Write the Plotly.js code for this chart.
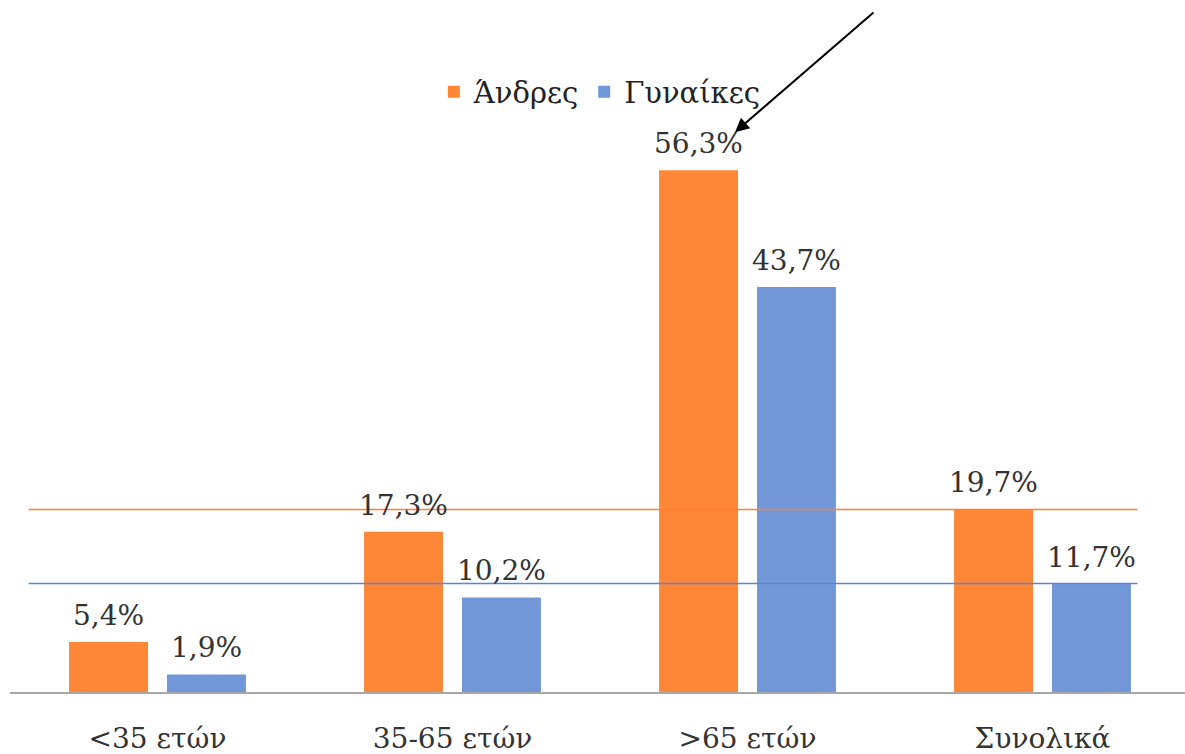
<!DOCTYPE html>
<html>
<head>
<meta charset="utf-8">
<script src="https://cdn.plot.ly/plotly-3.0.1.min.js"></script>
<style>html,body{margin:0;padding:0;background:#fff;}#chart{width:1185px;height:754px;}</style>
</head>
<body>
<div id="chart"></div>
<script>
const categories = ['<35 ετών', '35-65 ετών', '>65 ετών', 'Συνολικά'];
const seriesNames = ['Άνδρες', 'Γυναίκες'];
const men = [5.4, 17.3, 56.3, 19.7];
const women = [1.9, 10.2, 43.7, 11.7];
const menLabels = ['5,4%', '17,3%', '56,3%', '19,7%'];
const womenLabels = ['1,9%', '10,2%', '43,7%', '11,7%'];

const FONT = 'DejaVu Serif, Liberation Serif, serif';
const ORANGE = '#FD8637';
const BLUE = '#7297D9';
const TXT = '#333333';

const traces = [
  {type: 'bar', name: seriesNames[0], x: categories, y: men, marker: {color: ORANGE}, hoverinfo: 'none'},
  {type: 'bar', name: seriesNames[1], x: categories, y: women, marker: {color: BLUE}, hoverinfo: 'none'}
];

const annotations = [];
categories.forEach((c, i) => {
  annotations.push({x: c, y: men[i], xref: 'x', yref: 'y', text: menLabels[i], showarrow: false,
    xshift: -49, yshift: 8, yanchor: 'bottom', font: {family: FONT, size: 28, color: TXT}});
  annotations.push({x: c, y: women[i], xref: 'x', yref: 'y', text: womenLabels[i], showarrow: false,
    xshift: 49, yshift: 8, yanchor: 'bottom', font: {family: FONT, size: 28, color: TXT}});
});
// arrow pointing at the >65 men label
annotations.push({x: 0.617, y: 0.833, xref: 'paper', yref: 'paper', text: '', showarrow: true,
  ax: 140, ay: -121, arrowhead: 2, arrowsize: 1.4, arrowwidth: 2, arrowcolor: '#000'});

const shapes = [
  {type: 'line', xref: 'x', yref: 'y', x0: -0.437, x1: 3.322, y0: men[3], y1: men[3],
   line: {color: '#FF8030', width: 1.5}},
  {type: 'line', xref: 'x', yref: 'y', x0: -0.437, x1: 3.322, y0: women[3], y1: women[3],
   line: {color: '#5B84D8', width: 1.5}}
];

const layout = {
  width: 1185, height: 754,
  margin: {l: 10, r: 0, t: 20, b: 62},
  paper_bgcolor: '#fff', plot_bgcolor: '#fff',
  barmode: 'group', bargap: 0.336, bargroupgap: 0.194,
  showlegend: true,
  legend: {orientation: 'h', x: 0.502, xanchor: 'center', y: 0.893, yanchor: 'middle',
    font: {family: FONT, size: 29, color: '#222'}, itemclick: false},
  xaxis: {type: 'category', range: [-0.5, 3.483], showline: true, linecolor: '#A6A6A6', linewidth: 2,
    showgrid: false, zeroline: false, ticks: '', ticklabelstandoff: 20,
    tickfont: {family: FONT, size: 28, color: TXT}},
  yaxis: {range: [0, 72.5], showgrid: false, zeroline: false, showticklabels: false, showline: false},
  annotations: annotations,
  shapes: shapes
};

Plotly.newPlot('chart', traces, layout, {staticPlot: true, displayModeBar: false});
</script>
</body>
</html>
